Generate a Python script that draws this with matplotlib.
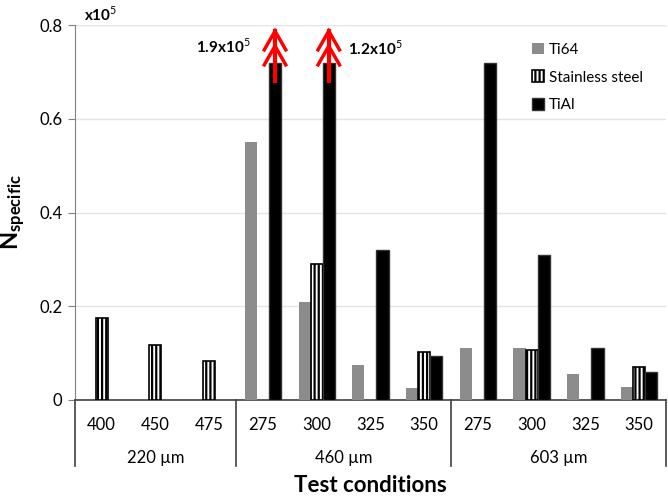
import numpy as np
import matplotlib
matplotlib.use('Agg')
import matplotlib.pyplot as plt
from matplotlib.transforms import blended_transform_factory

plt.rcParams['font.family'] = ['Lato', 'DejaVu Sans']
plt.rcParams['mathtext.fontset'] = 'custom'
plt.rcParams['mathtext.rm'] = 'Lato'
plt.rcParams['mathtext.bf'] = 'Lato:bold'
plt.rcParams['hatch.linewidth'] = 1.6

# data (x10^5), nan = no bar
speeds = ['400', '450', '475', '275', '300', '325', '350', '275', '300', '325', '350']
groups = ['220 µm', '460 µm', '603 µm']
group_sizes = [3, 4, 4]
ti64 = [np.nan, np.nan, np.nan, 0.55, 0.21, 0.075, 0.025, 0.11, 0.11, 0.055, 0.028]
steel = [0.175, 0.118, 0.083, np.nan, 0.29, np.nan, 0.103, np.nan, 0.107, np.nan, 0.07]
tial = [np.nan, np.nan, np.nan, 0.72, 0.72, 0.32, 0.093, 0.72, 0.31, 0.11, 0.06]
# clipped bars: index, real value label, label side
clipped = [(3, '1.9x10$^5$', 'left'), (4, '1.2x10$^5$', 'right')]

fig = plt.figure(figsize=(6.68, 5), dpi=100)
ax = fig.add_axes([0.112, 0.2, 0.885, 0.75])

x = np.arange(len(speeds))
w = 0.225
ax.bar(x - w, ti64, w, color='#8c8c8c', label='Ti64', zorder=3)
ax.bar(x, steel, w, color='white', edgecolor='black', hatch='||||', linewidth=1.2,
       label='Stainless steel', zorder=3)
ax.bar(x + w, tial, w, color='black', edgecolor='#333333', label='TiAl', zorder=3)

ax.set_xlim(-0.5, len(speeds) - 0.5)
ax.set_ylim(0, 0.8)
ax.set_yticks([0, 0.2, 0.4, 0.6, 0.8])
ax.set_yticklabels(['0', '0.2', '0.4', '0.6', '0.8'], fontsize=12)
ax.yaxis.grid(True, color='#e3e3e3', linewidth=1, zorder=0)
ax.set_axisbelow(True)
ax.tick_params(axis='y', length=5, color='#808080', pad=4)
ax.set_xticks([])
for s in ['top', 'right']:
    ax.spines[s].set_visible(False)
ax.spines['left'].set_color('#808080')
ax.spines['bottom'].set_color('#404040')
ax.spines['bottom'].set_linewidth(1.2)

# two-level category axis
tr = blended_transform_factory(ax.transData, ax.transAxes)
for i, s in enumerate(speeds):
    ax.text(i, -0.067, s, transform=tr, ha='center', va='center', fontsize=12)
edges = np.concatenate([[0], np.cumsum(group_sizes)]) - 0.5
for e in edges:
    ax.plot([e, e], [0, -0.175], transform=tr, color='#404040', lw=1.2, clip_on=False)
for g, a, b in zip(groups, edges[:-1], edges[1:]):
    ax.text((a + b) / 2, -0.155, g, transform=tr, ha='center', va='center', fontsize=12)

ax.text(0.5, -0.227, 'Test conditions', transform=ax.transAxes, ha='center', va='center',
        fontsize=16, fontweight='bold')
ax.set_ylabel(r'$\mathbf{N_{specific}}$', fontsize=17, labelpad=8)
ax.text(0.015, 1.027, r'x10$^5$', transform=ax.transAxes, fontsize=11, fontweight='bold',
        va='center')

# red double arrows for clipped bars
for i, lab, side in clipped:
    xc = i + w
    ax.plot([xc, xc], [0.68, 0.787], color='red', lw=3, clip_on=False, zorder=5)
    for tip in [0.787, 0.755]:
        ax.plot([xc - 0.2, xc, xc + 0.2], [tip - 0.04, tip, tip - 0.04], color='red', lw=2.5,
                clip_on=False, zorder=5, solid_joinstyle='miter')
    if side == 'left':
        ax.text(xc - 0.45, 0.755, lab, ha='right', va='center', fontsize=11, fontweight='bold')
    else:
        ax.text(xc + 0.35, 0.75, lab, ha='left', va='center', fontsize=11, fontweight='bold')

ax.legend(loc='upper left', bbox_to_anchor=(0.75, 0.99), frameon=False, fontsize=11,
          handlelength=0.8, handleheight=0.8, handletextpad=0.3, labelspacing=0.9)

fig.savefig('out.png', dpi=100)
